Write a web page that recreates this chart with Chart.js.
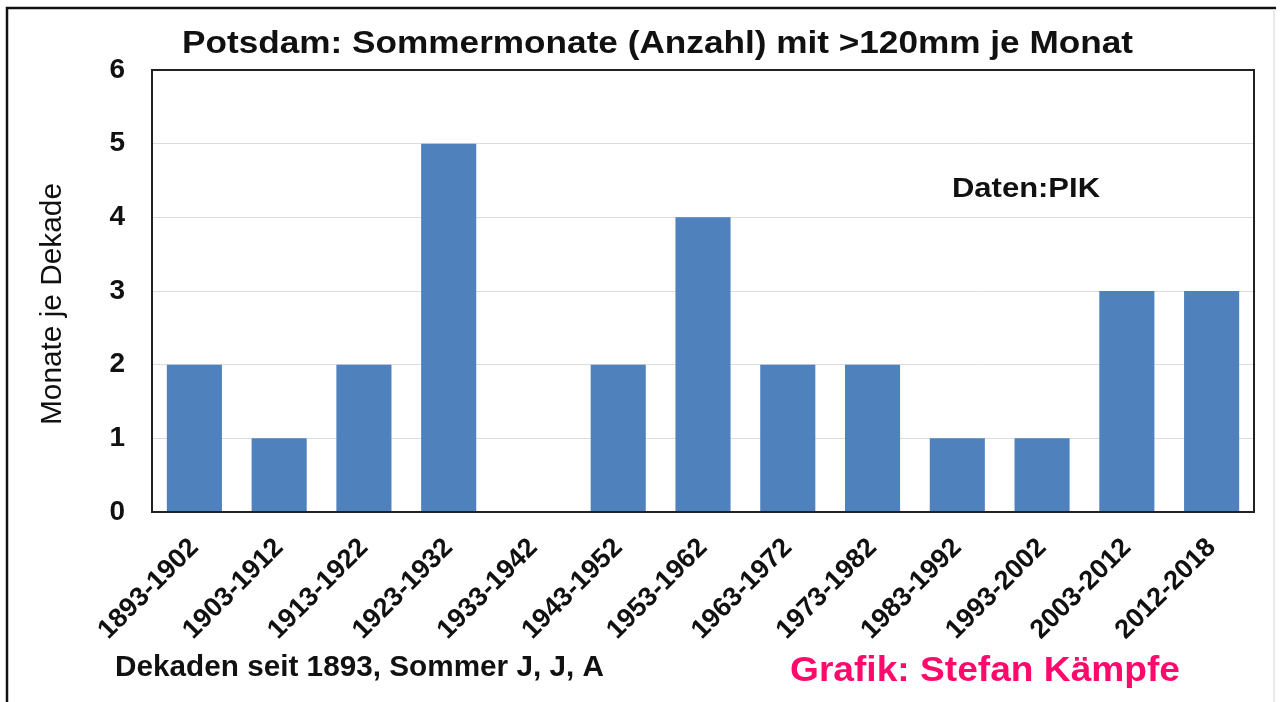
<!DOCTYPE html>
<html>
<head>
<meta charset="utf-8">
<script src="https://cdn.jsdelivr.net/npm/chart.js@4.4.0/dist/chart.umd.min.js"></script>
<style>
  html, body { margin: 0; padding: 0; background: #fff; }
  canvas { display: block; }
</style>
</head>
<body>
<canvas id="myChart" width="1283" height="702"></canvas>
<script>
const decades = ['1893-1902', '1903-1912', '1913-1922', '1923-1932', '1933-1942', '1943-1952',
    '1953-1962', '1963-1972', '1973-1982', '1983-1992', '1993-2002', '2003-2012', '2012-2018'];
const months = [2, 1, 2, 5, 0, 2, 4, 2, 2, 1, 1, 3, 3];
const yTicks = [0, 1, 2, 3, 4, 5, 6];

const FONT = '"Liberation Sans", Arial, sans-serif';

// draws a line of text squeezed/stretched to a given width
function fitText(ctx, text, x, y, width, font, color) {
    ctx.font = font;
    const w = ctx.measureText(text).width;
    ctx.save();
    ctx.translate(x, y);
    ctx.scale(width / w, 1);
    ctx.fillStyle = color;
    ctx.textAlign = 'left';
    ctx.textBaseline = 'middle';
    ctx.fillText(text, 0, 0);
    ctx.restore();
}

const decor = {
    id: 'decor',
    beforeDraw(chart) {
        const ctx = chart.ctx;
        ctx.save();
        ctx.fillStyle = '#fff';
        ctx.fillRect(0, 0, chart.width, chart.height);
        ctx.restore();
    },
    afterDraw(chart) {
        const ctx = chart.ctx;
        const a = chart.chartArea;
        ctx.save();
        // plot frame
        ctx.strokeStyle = '#222';
        ctx.lineWidth = 2;
        ctx.strokeRect(a.left, a.top, a.right - a.left, a.bottom - a.top);
        // outer frame
        ctx.strokeStyle = '#111';
        ctx.lineWidth = 2.5;
        ctx.beginPath();
        ctx.moveTo(7, 702);
        ctx.lineTo(7, 8);
        ctx.lineTo(1276, 8);
        ctx.stroke();
        ctx.strokeStyle = '#e4e4e4';
        ctx.lineWidth = 1.5;
        ctx.beginPath();
        ctx.moveTo(1274, 9);
        ctx.lineTo(1274, 702);
        ctx.stroke();

        fitText(ctx, 'Potsdam: Sommermonate (Anzahl) mit >120mm je Monat', 182, 44, 951, 'bold 31px ' + FONT, '#111');
        fitText(ctx, 'Daten:PIK', 952, 190, 148, 'bold 27px ' + FONT, '#111');
        fitText(ctx, 'Dekaden seit 1893, Sommer J, J, A', 115, 668, 489, 'bold 29px ' + FONT, '#111');
        fitText(ctx, 'Grafik: Stefan Kämpfe', 790, 671, 390, 'bold 35px ' + FONT, '#ff0a6c');

        ctx.save();
        ctx.translate(53, 304);
        ctx.rotate(-Math.PI / 2);
        fitText(ctx, 'Monate je Dekade', -121, 0, 242, '29px ' + FONT, '#111');
        ctx.restore();
        ctx.restore();
    }
};

new Chart(document.getElementById('myChart'), {
    type: 'bar',
    data: {
        labels: decades,
        datasets: [{
            data: months,
            backgroundColor: '#4f81bd',
            borderWidth: 0,
            categoryPercentage: 0.65,
            barPercentage: 1,
        }],
    },
    options: {
        responsive: false,
        animation: false,
        layout: { padding: { left: 0, right: 29, top: 70, bottom: 0 } },
        plugins: {
            legend: { display: false },
            title: { display: false },
            tooltip: { enabled: false },
        },
        scales: {
            y: {
                min: yTicks[0],
                max: yTicks[yTicks.length - 1],
                afterBuildTicks: (s) => { s.ticks = yTicks.map(v => ({ value: v })); },
                afterFit: (s) => { s.width = 152; },
                ticks: {
                    color: '#111',
                    padding: 27,
                    font: { family: FONT, size: 28, weight: 'bold' },
                },
                grid: { color: '#dcdcdc', lineWidth: 1, drawTicks: false },
                border: { display: false },
            },
            x: {
                afterFit: (s) => { s.height = 190; },
                ticks: {
                    color: '#111',
                    minRotation: 45,
                    maxRotation: 45,
                    padding: 20,
                    autoSkip: false,
                    font: { family: FONT, size: 27, weight: 'bold' },
                },
                grid: { display: false, drawTicks: false },
                border: { display: false },
            },
        },
    },
    plugins: [decor],
});
</script>
</body>
</html>
